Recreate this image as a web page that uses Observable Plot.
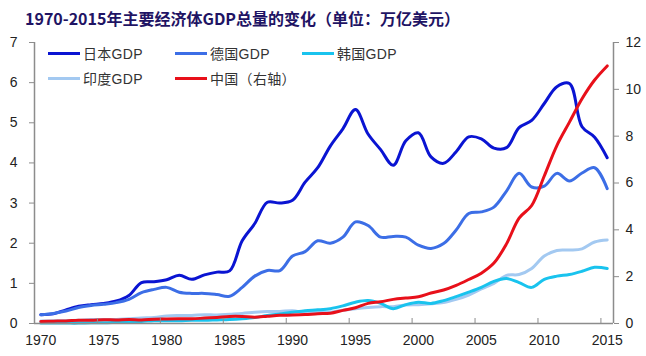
<!DOCTYPE html>
<html><head><meta charset="utf-8">
<script src="https://cdn.jsdelivr.net/npm/d3@7"></script>
<script src="https://cdn.jsdelivr.net/npm/@observablehq/plot@0.6"></script>
<style>
body{margin:0;background:#fff;}
#wrap{position:relative;width:646px;height:356px;overflow:hidden;background:#fff;}
#title{position:absolute;left:25px;top:7px;font:bold 16px "Noto Sans CJK SC";color:#1f1464;line-height:22px;white-space:nowrap;}
#chart{position:absolute;left:0;top:34px;}
.leg{position:absolute;height:20px;font:14px "Liberation Sans","Noto Sans CJK SC";color:#333;display:flex;align-items:center;white-space:nowrap;letter-spacing:0.3px;}
.leg i{display:inline-block;width:32px;height:3px;margin-right:3px;}
</style></head>
<body>
<div id="wrap">
  <div id="title">1970-2015年主要经济体GDP总量的变化（单位：万亿美元）</div>
  <div id="chart"></div>
  <div id="legend"></div>
</div>
<script>
const years = [1970,1971,1972,1973,1974,1975,1976,1977,1978,1979,1980,1981,1982,1983,1984,1985,1986,1987,1988,1989,1990,1991,1992,1993,1994,1995,1996,1997,1998,1999,2000,2001,2002,2003,2004,2005,2006,2007,2008,2009,2010,2011,2012,2013,2014,2015];
const japan = [0.22,0.24,0.34,0.43,0.47,0.50,0.56,0.70,1.02,1.04,1.09,1.20,1.10,1.21,1.28,1.31,2.06,2.49,3.02,3.00,3.07,3.52,3.88,4.42,4.85,5.33,4.72,4.33,3.94,4.55,4.75,4.15,3.99,4.28,4.65,4.60,4.37,4.38,4.88,5.06,5.48,5.90,5.98,4.90,4.64,4.13];
const germany = [0.22,0.25,0.31,0.40,0.45,0.48,0.52,0.60,0.77,0.85,0.90,0.78,0.75,0.75,0.72,0.68,0.90,1.18,1.32,1.32,1.68,1.79,2.06,2.00,2.15,2.53,2.44,2.15,2.17,2.15,1.95,1.87,1.99,2.33,2.74,2.78,2.90,3.30,3.74,3.40,3.42,3.74,3.55,3.75,3.88,3.36];
const korea = [0.01,0.01,0.01,0.01,0.02,0.02,0.03,0.04,0.05,0.07,0.07,0.07,0.08,0.08,0.09,0.10,0.12,0.15,0.20,0.24,0.28,0.32,0.34,0.37,0.44,0.53,0.57,0.50,0.37,0.47,0.53,0.50,0.57,0.67,0.78,0.90,1.05,1.12,1.02,0.90,1.10,1.18,1.22,1.30,1.40,1.37];
const india = [0.06,0.07,0.07,0.08,0.10,0.10,0.10,0.12,0.14,0.15,0.19,0.20,0.20,0.22,0.21,0.23,0.25,0.28,0.30,0.30,0.32,0.27,0.29,0.28,0.33,0.37,0.40,0.42,0.42,0.46,0.47,0.49,0.52,0.60,0.71,0.86,1.00,1.20,1.22,1.37,1.68,1.82,1.83,1.86,2.03,2.08];
const china = [0.09,0.10,0.11,0.14,0.14,0.16,0.15,0.17,0.15,0.18,0.19,0.20,0.20,0.23,0.26,0.30,0.30,0.27,0.31,0.35,0.36,0.38,0.42,0.44,0.56,0.67,0.86,0.93,1.03,1.09,1.14,1.30,1.43,1.63,1.88,2.15,2.58,3.40,4.50,5.04,6.30,7.60,8.60,9.60,10.40,11.00];

const seriesNames = ["日本GDP","德国GDP","韩国GDP","印度GDP","中国（右轴）"];
const seriesColors = ["#0a14d2","#3c6ee6","#19c3ee","#a3c9f1","#e8101a"];
const leftTicks = [0,1,2,3,4,5,6,7];
const rightTicks = [0,2,4,6,8,10,12];
const xLabels = [1970,1975,1980,1985,1990,1995,2000,2005,2010,2015];

const k = 7/12; // right axis value -> left axis units
const toRows = (vals, scale=1) => years.map((y,i)=>({year:y, value: vals[i]*scale}));
const tickBounds = xLabels.map(y => y - 0.5);

const lineOpts = (c) => ({x:"year", y:"value", stroke:c, strokeWidth:3, curve:"catmull-rom"});

const chart = Plot.plot({
  width: 646,
  height: 322,
  marginLeft: 34,
  marginRight: 33,
  marginTop: 8,
  marginBottom: 33,
  style: {fontFamily: "Liberation Sans, Arial, sans-serif", fontSize: "14px", background: "#fff"},
  x: {domain: [1969.5, 2015.5], axis: null},
  y: {domain: [0, 7], axis: null},
  marks: [
    Plot.line(toRows(japan), lineOpts(seriesColors[0])),
    Plot.line(toRows(germany), lineOpts(seriesColors[1])),
    Plot.line(toRows(india), lineOpts(seriesColors[3])),
    Plot.line(toRows(korea), lineOpts(seriesColors[2])),
    Plot.line(toRows(china, k), lineOpts(seriesColors[4])),
    Plot.ruleX([1969.5, 2015.5], {stroke:"#8c8c8c", strokeWidth:1.5}),
    Plot.ruleY([0], {stroke:"#8c8c8c", strokeWidth:1.5}),
    Plot.axisY(leftTicks, {anchor:"left", label:null, tickSize:5, tickPadding:12, stroke:"#8c8c8c", fill:"#222", fontSize:14}),
    Plot.axisY(rightTicks.map(v=>v*k), {anchor:"right", label:null, tickSize:5, tickPadding:7, stroke:"#8c8c8c", fill:"#222", fontSize:14, tickFormat: d => String(Math.round(d/k))}),
    Plot.axisX(xLabels, {anchor:"bottom", label:null, tickSize:0, tickPadding:12, fill:"#222", fontSize:14, tickFormat: d => String(d)}),
    Plot.axisX(tickBounds, {anchor:"bottom", label:null, tickSize:5, dy:-5, stroke:"#8c8c8c", tickFormat: () => ""})
  ]
});
document.getElementById("chart").appendChild(chart);

// legend
const legendPos = [[48,43],[175,43],[302,43],[48,68],[175,68]];
const legend = document.getElementById("legend");
seriesNames.forEach((name,i)=>{
  const d = document.createElement("div");
  d.className = "leg";
  d.style.left = legendPos[i][0] + "px";
  d.style.top = legendPos[i][1] + "px";
  const sw = document.createElement("i");
  sw.style.background = seriesColors[i];
  d.appendChild(sw);
  d.appendChild(document.createTextNode(name));
  legend.appendChild(d);
});
</script>
</body></html>
